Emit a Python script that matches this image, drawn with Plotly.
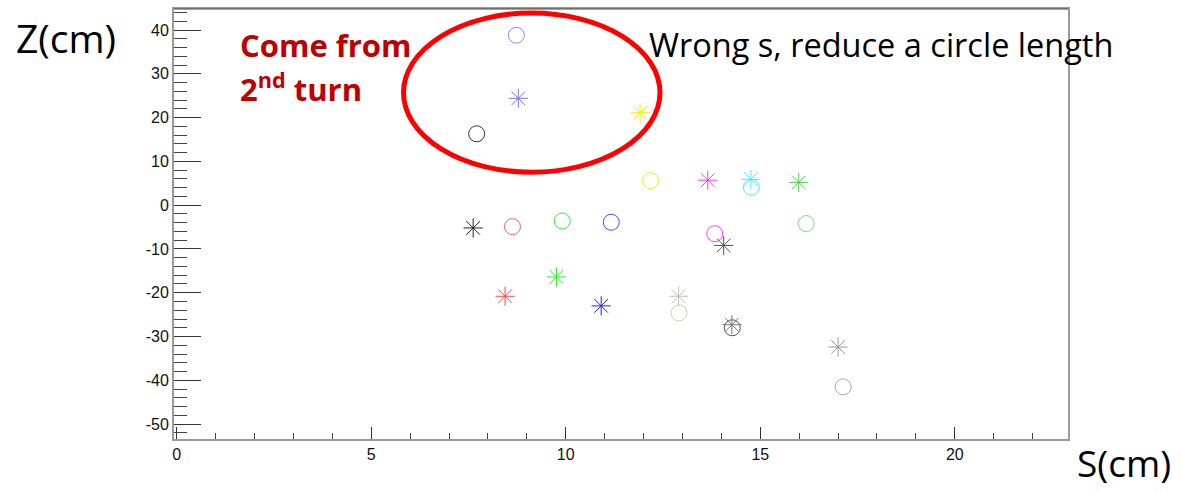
import plotly.graph_objects as go

# ---- data ----
circle_s = [8.73, 7.71, 12.18, 14.77, 8.63, 9.91, 11.17, 13.83, 16.18, 12.91, 14.28, 17.13]
circle_z = [38.8, 16.3, 5.6, 4.1, -4.9, -3.6, -3.9, -6.5, -4.2, -24.6, -28.0, -41.5]
circle_colors = ['#8a8aee', '#333333', '#f2f200', '#40f0ff', '#ff5a5a', '#33ee33',
                 '#4848ff', '#ff40ff', '#77dd77', '#d2cbc3', '#555555', '#aaaaaa']

star_s = [8.78, 11.91, 13.65, 14.76, 15.99, 7.62, 14.06, 9.76, 8.44, 10.91, 12.90, 14.27, 17.00]
star_z = [24.4, 21.1, 5.7, 5.9, 5.2, -5.2, -9.2, -16.4, -20.8, -23.0, -20.8, -27.3, -32.4]
star_colors = ['#7777ee', '#eeee00', '#ff33ff', '#33eeff', '#55cc55', '#222222', '#555555',
               '#22ee22', '#ff4444', '#2222ff', '#c8c0b8', '#777777', '#999999']

x_tickvals = [0, 5, 10, 15, 20]
x_ticktext = ['0', '5', '10', '15', '20']
y_tickvals = [-50, -40, -30, -20, -10, 0, 10, 20, 30, 40]
y_ticktext = ['-50', '-40', '-30', '-20', '-10', '0', '10', '20', '30', '40']

x_title = 'S(cm)'
y_title = 'Z(cm)'
note_red_1 = 'Come from'
note_red_2 = '2<sup>nd</sup> turn'
note_black = 'Wrong s, reduce a circle length'

# ---- figure ----
W, H = 1181, 491
L, R, T, B = 174, 113, 7, 52
pw, ph = W - L - R, H - T - B


def px(x):
    return (x - L) / pw


def py(y):
    return (H - B - y) / ph


fig = go.Figure()
fig.add_trace(go.Scatter(
    x=circle_s, y=circle_z, mode='markers',
    marker=dict(symbol='circle-open', size=16, color=circle_colors,
                line=dict(width=1, color=circle_colors)),
    hoverinfo='x+y'))
fig.add_trace(go.Scatter(
    x=star_s, y=star_z, mode='markers',
    marker=dict(symbol='asterisk-open', size=16, color=star_colors,
                line=dict(width=1, color=star_colors)),
    hoverinfo='x+y'))

tick_font = dict(family='Liberation Sans', size=16, color='#111111')

fig.update_layout(
    xaxis=dict(range=[-0.07, 22.91], tickmode='array', tickvals=x_tickvals, ticktext=x_ticktext,
               showgrid=False, zeroline=False, showline=True, mirror=True,
               linecolor='#9a9a9a', linewidth=2, ticks='inside', tickwidth=1, tickcolor='#333333',
               ticklen=12, tickfont=tick_font,
               minor=dict(dtick=1, tick0=0, ticklen=6, ticks='inside', tickcolor='#444444', tickwidth=1)),
    yaxis=dict(range=[-53.4, 44.8], tickmode='array', tickvals=y_tickvals, ticktext=y_ticktext,
               showgrid=False, zeroline=False, showline=True, mirror=True,
               linecolor='#9a9a9a', linewidth=2, ticks='inside', tickwidth=1, tickcolor='#333333',
               ticklen=27, tickfont=tick_font,
               minor=dict(dtick=2, tick0=0, ticklen=13, ticks='inside', tickcolor='#444444', tickwidth=1)),
)

# top frame line (darker)
fig.add_shape(type='line', xref='paper', yref='paper', x0=0, x1=1, y0=1, y1=1,
              line=dict(color='#444444', width=1))

# red ellipse
fig.add_shape(type='circle', xref='paper', yref='paper',
              x0=px(403.5), x1=px(660), y0=py(171), y1=py(11),
              line=dict(color='#ff0000', width=5), layer='above')

big = 'Open Sans, Noto Sans, sans-serif'
fig.add_annotation(xref='paper', yref='paper', x=px(66), y=py(36), text=y_title,
                   showarrow=False, xanchor='center', yanchor='middle',
                   font=dict(family=big, size=39, color='#000000'))
fig.add_annotation(xref='paper', yref='paper', x=px(1124), y=py(463), text=x_title,
                   showarrow=False, xanchor='center', yanchor='middle',
                   font=dict(family=big, size=37, color='#000000'))
fig.add_annotation(xref='paper', yref='paper', x=px(238), y=py(43), text='<b>' + note_red_1 + '</b>',
                   showarrow=False, xanchor='left', yanchor='middle',
                   font=dict(family=big, size=31, color='#c00000'))
fig.add_annotation(xref='paper', yref='paper', x=px(238), y=py(86), text='<b>' + note_red_2 + '</b>',
                   showarrow=False, xanchor='left', yanchor='middle',
                   font=dict(family=big, size=31, color='#c00000'))
fig.add_annotation(xref='paper', yref='paper', x=px(647), y=py(43), text=note_black,
                   showarrow=False, xanchor='left', yanchor='middle',
                   font=dict(family=big, size=32.5, color='#000000'))

fig.update_layout(width=W, height=H, margin=dict(l=L, r=R, t=T, b=B),
                  paper_bgcolor='white', plot_bgcolor='white', showlegend=False)

fig.write_html('out.html')
